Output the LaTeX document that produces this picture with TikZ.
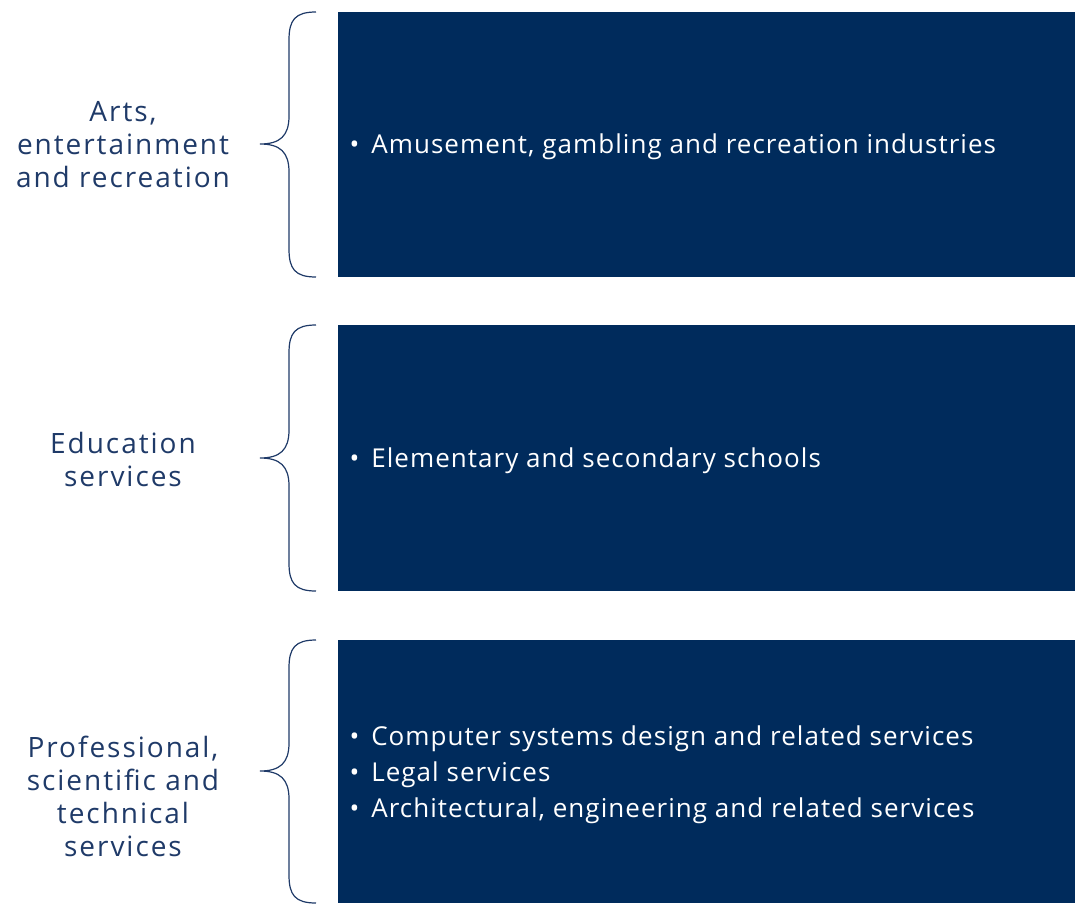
\documentclass[tikz,border=0pt]{standalone}
\usepackage{fontspec}
\setmainfont{Open Sans}
\newfontfamily\itemfont[LetterSpace=4]{Open Sans}
\newfontfamily\groupfont[LetterSpace=7]{Open Sans}
\definecolor{navy}{HTML}{002B5C}
\definecolor{labelblue}{HTML}{1F3A68}

\begin{document}
\begin{tikzpicture}[x=1pt, y=-1pt,
                    box/.style = {fill = navy, draw = none},
                    brace/.style = {draw = labelblue, line width = 1.2pt},
                    group/.style = {text = labelblue, align = center, font = \groupfont\fontsize{28}{33}\selectfont},
                    items/.style = {text = white, align = left, anchor = west, font = \itemfont\fontsize{26}{36}\selectfont}]
      \useasboundingbox (0, 0) rectangle (1075, 903);

      % boxes
      \fill [box] (338, 12) rectangle (1075, 277);
      \fill [box] (338, 325) rectangle (1075, 591);
      \fill [box] (338, 640) rectangle (1075, 903);

      % braces
      \draw [brace] (316, 12) .. controls (295, 12) and (289, 20) .. (289, 40) -- (289, 116)
                    .. controls (289, 136) and (280, 144) .. (260, 144)
                    .. controls (280, 144) and (289, 152) .. (289, 172) -- (289, 249)
                    .. controls (289, 269) and (295, 277) .. (316, 277);
      \draw [brace] (316, 325) .. controls (295, 325) and (289, 333) .. (289, 353) -- (289, 430)
                    .. controls (289, 450) and (280, 458) .. (260, 458)
                    .. controls (280, 458) and (289, 466) .. (289, 486) -- (289, 563)
                    .. controls (289, 583) and (295, 591) .. (316, 591);
      \draw [brace] (316, 640) .. controls (295, 640) and (289, 648) .. (289, 668) -- (289, 743)
                    .. controls (289, 763) and (280, 771) .. (260, 771)
                    .. controls (280, 771) and (289, 779) .. (289, 799) -- (289, 875)
                    .. controls (289, 895) and (295, 903) .. (316, 903);

      % group labels
      \node [group] (arts) at (123, 145) {Arts,\\entertainment\\and recreation};
      \node [group] (edu) at (123, 459) {Education\\services};
      \node [group] (prof) at (123, 796) {Professional,\\scientific and\\technical\\services};

      % bullet lists
      \node [items] (artsitems) at (346, 147) {\textbullet\hspace{12pt}Amusement, gambling and recreation industries};
      \node [items] (eduitems) at (346, 461) {\textbullet\hspace{12pt}Elementary and secondary schools};
      \node [items] (profitems) at (346, 775) {\textbullet\hspace{12pt}Computer systems design and related services\\
                                               \textbullet\hspace{12pt}Legal services\\
                                               \textbullet\hspace{12pt}Architectural, engineering and related services};
\end{tikzpicture}
\end{document}
